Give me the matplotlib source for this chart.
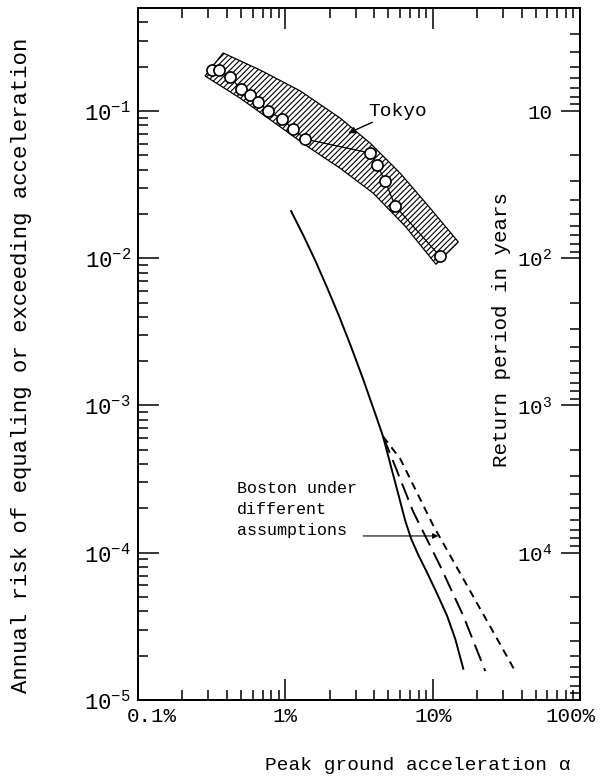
import matplotlib.pyplot as plt
import matplotlib.transforms as mtransforms

plt.rcParams['font.family'] = ['Liberation Mono', 'DejaVu Sans Mono']
plt.rcParams['mathtext.fontset'] = 'custom'
plt.rcParams['mathtext.rm'] = 'Liberation Mono'
plt.rcParams['mathtext.it'] = 'Liberation Mono'
plt.rcParams['mathtext.bf'] = 'Liberation Mono:bold'
plt.rcParams['hatch.linewidth'] = 0.8

# Tokyo observed points (acceleration in %, annual risk)
tokyo_acc = [0.318, 0.355, 0.42, 0.50, 0.575, 0.653, 0.764, 0.95, 1.13, 1.36,
             3.76, 4.2, 4.75, 5.56, 11.2]
tokyo_risk = [0.19, 0.19, 0.17, 0.141, 0.128, 0.115, 0.10, 0.088, 0.0755, 0.0645,
              0.0518, 0.043, 0.0334, 0.0226, 0.0103]

# Tokyo hatched band edges
band_upper_acc = [0.378, 0.673, 1.26, 2.35, 3.76, 6.01, 9.6, 14.9]
band_upper_risk = [0.248, 0.190, 0.137, 0.0896, 0.0605, 0.0378, 0.0219, 0.0129]
band_lower_acc = [0.285, 0.492, 0.85, 1.40, 2.35, 3.94, 6.5, 10.5]
band_lower_risk = [0.173, 0.1225, 0.0828, 0.0578, 0.0409, 0.0277, 0.0165, 0.0091]

# Boston curves
boston_acc = [1.093, 1.318, 1.591, 1.919, 2.317, 2.793, 3.37, 4.06, 4.60,
              5.14, 5.82, 6.50, 7.13, 7.96, 9.16, 10.7, 12.5, 14.2, 16.1]
boston_risk = [0.0209, 0.01442, 0.00969, 0.00632, 0.00403, 0.00250, 0.001507, 8.85e-4, 6.15e-4,
               4.03e-4, 2.52e-4, 1.65e-4, 1.245e-4, 9.69e-5, 7.31e-5, 5.26e-5, 3.73e-5, 2.60e-5, 1.63e-5]
boston_long_acc = [4.60, 5.30, 7.36, 11.2, 16.1, 22.7]
boston_long_risk = [6.15e-4, 4.35e-4, 1.90e-4, 8.16e-5, 3.73e-5, 1.57e-5]
boston_short_acc = [4.60, 6.01, 10.07, 17.1, 25.7, 36.2]
boston_short_risk = [6.15e-4, 4.35e-4, 1.53e-4, 5.97e-5, 2.9e-5, 1.57e-5]

x_ticks = [0.1, 1, 10, 100]
x_labels = ['0.1%', '1%', '10%', '100%']
y_ticks = [1e-5, 1e-4, 1e-3, 1e-2, 1e-1]
y_labels = ['$10^{-5}$', '$10^{-4}$', '$10^{-3}$', '$10^{-2}$', '$10^{-1}$']
rp_ticks = [10, 100, 1000, 10000]
rp_labels = ['10', '$10^{2}$', '$10^{3}$', '$10^{4}$']

fig = plt.figure(figsize=(6, 7.8), dpi=100)
ax = fig.add_axes([0.23, 0.1026, 0.737, 0.887])
ax.set_xscale('log')
ax.set_yscale('log')
ax.set_xlim(0.1, 100)
ax.set_ylim(1e-5, 0.5)

# hatched band
ax.fill(band_upper_acc + band_lower_acc[::-1], band_upper_risk + band_lower_risk[::-1],
        facecolor='white', edgecolor='black', hatch='//////', linewidth=0.9, zorder=2)

ax.plot(tokyo_acc, tokyo_risk, '-o', color='black', lw=0.9, ms=8,
        mfc='white', mec='black', mew=1.2, zorder=3)

ax.plot(boston_acc, boston_risk, '-', color='black', lw=1.4)
ax.plot(boston_long_acc, boston_long_risk, color='black', lw=1.4, dashes=(9, 4))
ax.plot(boston_short_acc, boston_short_risk, color='black', lw=1.4, dashes=(4, 3))

ax.annotate('Tokyo', xy=(2.67, 0.0708), xytext=(3.64, 0.1), fontsize=14,
            va='center', ha='left',
            arrowprops=dict(arrowstyle='-|>', color='black', lw=1, mutation_scale=10,
                            shrinkA=0, shrinkB=0))
ax.text(0.47, 1.96e-4, 'Boston under\ndifferent\nassumptions',
        fontsize=12, va='center', ha='left', linespacing=1.5)
ax.annotate('', xy=(10.9, 1.3e-4), xytext=(3.37, 1.3e-4),
            arrowprops=dict(arrowstyle='-|>', color='black', lw=0.8, mutation_scale=8,
                            shrinkA=0, shrinkB=0))

ax.set_xticks(x_ticks)
ax.set_xticklabels(x_labels)
ax.set_yticks(y_ticks)
ax.set_yticklabels(y_labels)
ax.tick_params(which='both', direction='in', top=True, right=False, width=1.1)
ax.tick_params(axis='x', labelsize=15)
ax.tick_params(axis='y', labelsize=16)
ax.tick_params(which='major', length=15, pad=5)
ax.tick_params(which='minor', length=7)

# nudge the end labels inward like the original
xl = ax.get_xticklabels()
xl[0].set_transform(xl[0].get_transform() + mtransforms.ScaledTranslation(0.14, 0, fig.dpi_scale_trans))
xl[-1].set_transform(xl[-1].get_transform() + mtransforms.ScaledTranslation(-0.10, 0, fig.dpi_scale_trans))

ax.set_xlabel('Peak ground acceleration α', fontsize=14, va='center')
ax.xaxis.set_label_coords(0.633, -0.094)
ax.set_ylabel('Annual risk of equaling or exceeding acceleration', fontsize=16)
ax.yaxis.set_label_coords(-0.239, 0.484)

# return period axis = 1 / annual risk
tw = ax.twinx()
tw.set_yscale('log')
tw.set_ylim(1 / 1e-5, 1 / 0.5)
tw.set_yticks(rp_ticks)
tw.set_yticklabels(rp_labels)
tw.tick_params(which='both', direction='in', labelsize=15, width=1.1)
tw.tick_params(which='major', length=14, pad=-20)
tw.tick_params(which='minor', length=7)
plt.setp(tw.get_yticklabels(), ha='right')
tw.set_ylabel('Return period in years', fontsize=15)
tw.yaxis.set_label_coords(0.801, 0.535)

for a in (ax, tw):
    for s in a.spines.values():
        s.set_linewidth(1.3)

fig.savefig('out.png', dpi=100, facecolor='white')
